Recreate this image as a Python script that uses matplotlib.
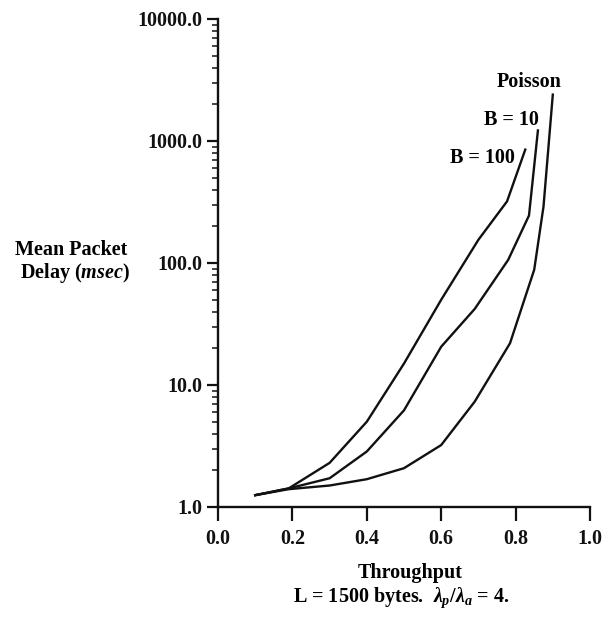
import matplotlib
matplotlib.use("Agg")
import matplotlib.pyplot as plt
from matplotlib.ticker import FixedLocator, LogLocator, NullFormatter

plt.rcParams['font.family'] = ['Liberation Serif', 'DejaVu Serif']
plt.rcParams['font.weight'] = 'bold'
plt.rcParams['mathtext.fontset'] = 'custom'
plt.rcParams['mathtext.rm'] = 'Liberation Serif:bold'
plt.rcParams['mathtext.it'] = 'Liberation Serif:italic:bold'

# Data
b100_x = [0.10, 0.19, 0.30, 0.40, 0.50, 0.60, 0.70, 0.777, 0.826]
b100_y = [1.25, 1.42, 2.3, 5.0, 15.0, 50.0, 155.0, 320.0, 850.0]

b10_x = [0.10, 0.19, 0.30, 0.40, 0.50, 0.60, 0.69, 0.78, 0.836, 0.86]
b10_y = [1.25, 1.42, 1.72, 2.85, 6.2, 20.6, 42.0, 106.0, 245.0, 1220.0]

poisson_x = [0.10, 0.19, 0.30, 0.40, 0.50, 0.60, 0.69, 0.785, 0.85, 0.875, 0.90]
poisson_y = [1.25, 1.40, 1.50, 1.69, 2.08, 3.22, 7.3, 22.0, 88.0, 290.0, 2400.0]

x_ticks = [0.0, 0.2, 0.4, 0.6, 0.8, 1.0]
y_ticks = [1.0, 10.0, 100.0, 1000.0, 10000.0]

FS = 14.5
INK = '#111111'

fig = plt.figure(figsize=(6.13, 6.26), dpi=100)
ax = fig.add_axes([218/613, 1-507/626, 372/613, 488/626])

for xs, ys in [(b100_x, b100_y), (b10_x, b10_y), (poisson_x, poisson_y)]:
    ax.plot(xs, ys, color=INK, lw=1.7, solid_joinstyle='round')

ax.set_yscale('log')
ax.set_xlim(0, 1.0)
ax.set_ylim(1.0, 10000.0)
ax.xaxis.set_major_locator(FixedLocator(x_ticks))
ax.set_xticklabels([f"{v:.1f}" for v in x_ticks])
ax.yaxis.set_major_locator(FixedLocator(y_ticks))
ax.set_yticklabels([f"{v:.1f}" for v in y_ticks])
ax.yaxis.set_minor_locator(LogLocator(base=10, subs=range(2, 10)))
ax.yaxis.set_minor_formatter(NullFormatter())

for s in ['top', 'right']:
    ax.spines[s].set_visible(False)
for s in ['left', 'bottom']:
    ax.spines[s].set_linewidth(1.7)
    ax.spines[s].set_color(INK)

ax.tick_params(axis='both', which='major', direction='out', width=1.6,
               labelsize=FS, colors=INK)
ax.tick_params(axis='y', which='major', length=8, pad=3)
ax.tick_params(axis='x', which='major', length=10, pad=6)
ax.tick_params(axis='y', which='minor', direction='out', length=4.5, width=1.1, colors=INK)

fig.text(71/613, 1-250/626, "Mean Packet", ha='center', va='center', fontsize=FS)
fig.text(75/613, 1-273/626, r"Delay ($\mathit{msec}$)", ha='center', va='center', fontsize=FS)

fig.text(410/613, 1-573/626, "Throughput", ha='center', va='center', fontsize=FS)
fig.text(401/613, 1-598/626, r"L = 1500 bytes.  $\lambda_p/\lambda_a$ = 4.",
         ha='center', va='center', fontsize=FS)

fig.text(529/613, 1-82/626, "Poisson", ha='center', va='center', fontsize=FS)
fig.text(511/613, 1-120/626, "B = 10", ha='center', va='center', fontsize=FS)
fig.text(482/613, 1-158/626, "B = 100", ha='center', va='center', fontsize=FS)

fig.savefig("out.png", dpi=100)
